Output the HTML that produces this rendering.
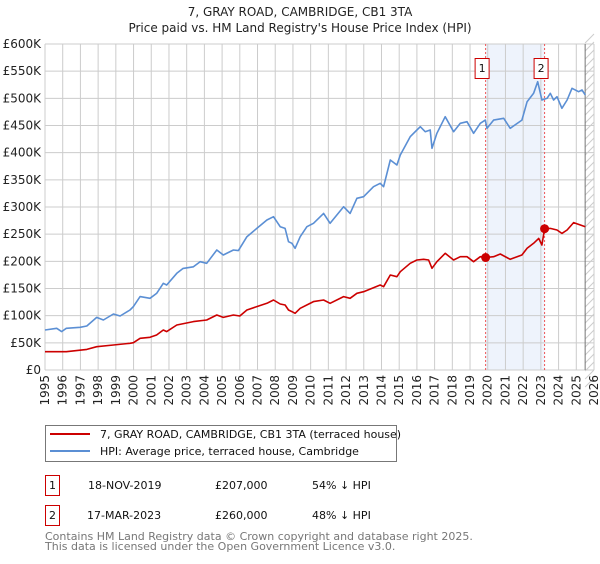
<!DOCTYPE html>
<html><head><meta charset="utf-8"><style>
body{margin:0;background:#fff;font-family:"DejaVu Sans","Liberation Sans",sans-serif;}
svg text{font-family:"DejaVu Sans","Liberation Sans",sans-serif;}
</style></head><body>
<svg id="chart" width="600" height="560" viewBox="0 0 600 560" xmlns="http://www.w3.org/2000/svg">
<text x="300" y="16" text-anchor="middle" font-size="12" fill="#222">7, GRAY ROAD, CAMBRIDGE, CB1 3TA</text>
<text x="300" y="32" text-anchor="middle" font-size="12" fill="#222">Price paid vs. HM Land Registry's House Price Index (HPI)</text>
<g id="plot"></g>
<g>
<rect x="45.5" y="425.5" width="351" height="36" fill="#fff" stroke="#777"/>
<line x1="50" y1="434" x2="90" y2="434" stroke="#cc0000" stroke-width="2"/>
<text x="100" y="438" font-size="11" fill="#111">7, GRAY ROAD, CAMBRIDGE, CB1 3TA (terraced house)</text>
<line x1="50" y1="451" x2="90" y2="451" stroke="#5b8fd4" stroke-width="2"/>
<text x="100" y="455" font-size="11" fill="#111">HPI: Average price, terraced house, Cambridge</text>
</g>
<g font-size="11" fill="#111">
<rect x="45.5" y="475.5" width="14" height="20" fill="#fff" stroke="#cc0000"/>
<text x="52.5" y="489" text-anchor="middle">1</text>
<text x="88" y="489">18-NOV-2019</text><text x="215" y="489">£207,000</text><text x="312" y="489">54% ↓ HPI</text>
<rect x="45.5" y="505.5" width="14" height="20" fill="#fff" stroke="#cc0000"/>
<text x="52.5" y="519" text-anchor="middle">2</text>
<text x="87" y="519">17-MAR-2023</text><text x="215" y="519">£260,000</text><text x="312" y="519">48% ↓ HPI</text>
</g>
<text x="45" y="540" font-size="11" fill="#777">Contains HM Land Registry data © Crown copyright and database right 2025.</text>
<text x="45" y="550" font-size="11" fill="#777">This data is licensed under the Open Government Licence v3.0.</text>
</svg>
<script>
const hpiYears=[1995.0,1995.66,1995.94,1996.2,1996.98,1997.36,1997.92,1998.3,1998.86,1999.24,1999.8,1999.99,2000.37,2000.93,2001.3,2001.68,2001.87,2002.44,2002.8,2003.38,2003.76,2004.13,2004.7,2005.07,2005.64,2005.92,2006.4,2006.96,2007.53,2007.9,2008.28,2008.56,2008.75,2008.94,2009.12,2009.41,2009.79,2010.16,2010.73,2011.1,2011.86,2012.23,2012.61,2012.99,2013.55,2013.93,2014.12,2014.5,2014.87,2015.06,2015.62,2016.0,2016.19,2016.47,2016.75,2016.85,2017.13,2017.6,2018.07,2018.45,2018.83,2019.2,2019.58,2019.86,2019.96,2020.33,2020.9,2021.27,2021.93,2022.22,2022.59,2022.82,2023.06,2023.35,2023.53,2023.72,2023.91,2024.19,2024.48,2024.76,2025.13,2025.32,2025.51];
const hpiValues=[73.6,76.7,70.6,76.7,78.5,81,96.9,92,103,99.4,110.4,116.6,135,131.9,141,159.5,156.4,177.9,187,190,199.4,196.3,220.9,211.7,220.9,219.7,245.4,260.7,276,282.2,263.8,260.7,236.2,233.1,223.9,245.4,263.8,270,288.3,270,300.6,288.3,316,319,337.4,343.6,337.4,386.5,377.3,395.7,429.4,441.7,447.8,438.6,441.7,408,435.6,466.2,438.6,454,457,435.6,454,460,444.8,460,463.2,444.8,460,493.8,509.2,530.7,496.9,500,509.2,496.9,503,481.6,496.9,518.4,512.3,515.3,506.1];
const ppYears=[1995.0,1996.2,1997.36,1997.92,1998.86,1999.8,1999.99,2000.37,2000.93,2001.3,2001.68,2001.87,2002.44,2003.38,2004.13,2004.7,2005.07,2005.64,2006.0,2006.4,2006.96,2007.53,2007.9,2008.28,2008.56,2008.75,2008.94,2009.12,2009.41,2010.16,2010.73,2011.1,2011.86,2012.23,2012.61,2012.99,2013.93,2014.12,2014.5,2014.87,2015.06,2015.62,2016.0,2016.38,2016.66,2016.85,2017.13,2017.6,2018.07,2018.45,2018.83,2019.2,2019.58,2019.88,2020.33,2020.71,2021.27,2021.93,2022.22,2022.59,2022.88,2023.06,2023.21,2023.53,2023.91,2024.19,2024.48,2024.85,2025.23,2025.51];
const ppValues=[33.7,33.7,38,42.9,46,49.1,50.3,58.3,60.1,64.4,73.6,70.6,82.8,89,92,101.2,96.9,101.2,99.4,110.4,116.6,122.7,128.8,121.5,119.6,110.4,107.4,104.3,113.5,125.8,128.8,122.7,135,131.9,141.1,144.2,156.4,153.4,174.8,171.8,181,196.3,202.5,203.7,202.5,187.1,199.4,214.7,202.5,208.6,208.6,199.4,208.6,207,208.6,213.5,203.7,211.7,223.9,233.1,242.3,230,260,260.7,257.7,251.5,257.7,271.2,266.9,263.8];
const saleYears=[2019.88,2023.21];
const saleValues=[207,260];
const yTicks=[0,50,100,150,200,250,300,350,400,450,500,550,600];
const yTickLabels=["£0","£50K","£100K","£150K","£200K","£250K","£300K","£350K","£400K","£450K","£500K","£550K","£600K"];
const xTicks=[1995,1996,1997,1998,1999,2000,2001,2002,2003,2004,2005,2006,2007,2008,2009,2010,2011,2012,2013,2014,2015,2016,2017,2018,2019,2020,2021,2022,2023,2024,2025,2026];

const NS="http://www.w3.org/2000/svg";
const L=45,R=594,T=44,B=370;
const xs=y=>L+(y-1995)*(R-L)/31;
const ys=v=>B-v*(B-T)/600;
const g=document.getElementById('plot');
function mk(t,a){const e=document.createElementNS(NS,t);for(const k in a)e.setAttribute(k,a[k]);g.appendChild(e);return e;}
// shaded region
let sh=mk('rect',{x:xs(saleYears[0]),y:T,width:xs(saleYears[1])-xs(saleYears[0]),height:B-T,fill:'#eef3fc'});


// hatch
const dEnd=2025.5;
let hatch=mk('rect',{x:xs(dEnd),y:T,width:R-xs(dEnd),height:B-T,fill:'#fff'});


for(let yy=T-10;yy<B+10;yy+=8){mk('line',{x1:xs(dEnd),y1:yy+9,x2:R,y2:yy,stroke:'#ccc','stroke-width':1});}
// grid
yTicks.forEach((v,i)=>{
 const ln=mk('line',{x1:L,x2:R,y1:ys(v),y2:ys(v),stroke:'#cccccc'});
 
 
 const t=mk('text',{x:41,y:ys(v)+4,'text-anchor':'end','font-size':'12',fill:'#222'});
 t.textContent=yTickLabels[i];
 
 
});
xTicks.forEach(y=>{
 const ln=mk('line',{x1:xs(y),x2:xs(y),y1:T,y2:B,stroke:'#cccccc'});
 
 
 const t=mk('text',{x:0,y:0,'text-anchor':'end','font-size':'12',fill:'#222',transform:`translate(${xs(y)+4},375) rotate(-90)`});
 t.textContent=y;
 
 
});
let dl=mk('line',{x1:xs(dEnd),x2:xs(dEnd),y1:T,y2:B,stroke:'#777'});


// sale lines
saleYears.forEach((y,i)=>{
 const ln=mk('line',{x1:xs(y),x2:xs(y),y1:T,y2:B,stroke:'#ee5555','stroke-dasharray':'2,2'});
 
 
 const bx=mk('rect',{x:xs(y)-10.5,y:58.5,width:14,height:20,fill:'#fff',stroke:'#cc0000'});
 
 
 const t=mk('text',{x:xs(y)-3.5,y:72,'text-anchor':'middle','font-size':'11',fill:'#111'});
 t.textContent=String(i+1);
 
 
});
function line(xa,va,c,name){
 const p=mk('polyline',{points:xa.map((y,i)=>xs(y).toFixed(1)+','+ys(va[i]).toFixed(1)).join(' '),fill:'none',stroke:c,'stroke-width':1.6,'stroke-linejoin':'round'});
 
 
}
line(hpiYears,hpiValues,'#5b8fd4','hpi-line');
line(ppYears,ppValues,'#cc0000','price-paid-line');
saleYears.forEach((y,i)=>{
 const c=mk('circle',{cx:xs(y),cy:ys(saleValues[i]),r:4.5,fill:'#cc0000'});
 
 
});
</script>
</body></html>
